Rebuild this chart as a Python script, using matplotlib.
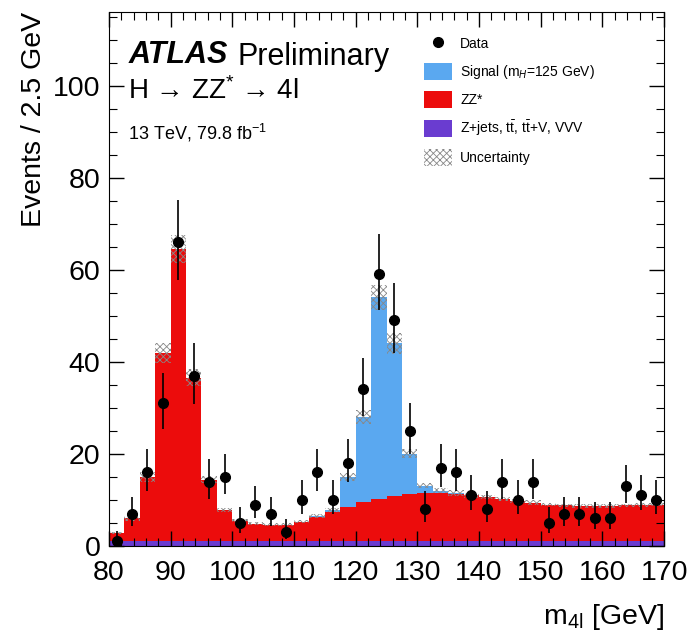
import numpy as np
import matplotlib
matplotlib.use("Agg")
import matplotlib.pyplot as plt
from matplotlib.patches import Patch
from matplotlib.lines import Line2D

plt.rcParams['font.family'] = ['Liberation Sans', 'DejaVu Sans']
plt.rcParams['mathtext.fontset'] = 'custom'
plt.rcParams['mathtext.rm'] = 'Liberation Sans'
plt.rcParams['mathtext.it'] = 'Liberation Sans:italic'

# bin edges 80-170 GeV, 2.5 GeV wide
edges = np.arange(80, 170.01, 2.5)
centers = edges[:-1] + 1.25

data = [1, 7, 16, 31, 66, 37, 14, 15, 5, 9, 7, 3, 10, 16, 10, 18, 34, 59,
        49, 25, 8, 17, 16, 11, 8, 14, 10, 14, 5, 7, 7, 6, 6, 13, 11, 10]
data_err_hi = [2.3, 3.7, 5.1, 6.6, 9.1, 7.1, 4.8, 4.9, 3.4, 4.1, 3.7, 2.9,
               4.3, 5.1, 4.3, 5.3, 6.9, 8.7, 8.1, 6.1, 3.9, 5.2, 5.1, 4.4,
               3.9, 4.8, 4.3, 4.8, 3.4, 3.7, 3.7, 3.6, 3.6, 4.6, 4.4, 4.3]
data_err_lo = [0.8, 2.6, 4.0, 5.5, 8.1, 6.1, 3.7, 3.8, 2.2, 2.9, 2.6, 1.6,
               3.1, 4.0, 3.1, 4.2, 5.8, 7.7, 7.0, 5.0, 2.8, 4.1, 4.0, 3.3,
               2.8, 3.7, 3.1, 3.7, 2.2, 2.6, 2.6, 2.4, 2.4, 3.6, 3.3, 3.1]

# Z+jets, ttbar, ttV, VVV
other = [1.0, 1.0, 1.0, 1.0, 1.0, 1.0, 1.0, 1.0, 1.0, 1.0, 1.0, 1.0,
         1.0, 1.0, 1.0, 1.0, 1.0, 1.0, 1.0, 1.0, 1.0, 1.0, 1.0, 1.0,
         1.0, 1.0, 1.0, 1.0, 1.0, 1.0, 1.0, 1.0, 1.0, 1.0, 1.0, 1.0]
# ZZ*
zz = [1.8, 5.0, 14.0, 41.0, 63.5, 35.6, 13.4, 6.8, 4.5, 3.8, 3.6, 3.6,
      4.3, 5.3, 6.3, 7.5, 8.5, 9.2, 9.8, 10.2, 10.4, 10.5, 10.3, 10.0,
      9.6, 9.2, 8.8, 8.4, 8.0, 7.8, 7.7, 7.7, 7.7, 7.8, 7.9, 8.0]
# signal mH = 125 GeV
signal = [0, 0, 0, 0, 0, 0, 0, 0, 0, 0, 0, 0,
          0, 0.2, 0.5, 6.5, 18.5, 43.8, 33.2, 8.8, 1.7, 0.5, 0.2, 0,
          0, 0, 0, 0, 0, 0, 0, 0, 0, 0, 0, 0]
# total uncertainty on the prediction
unc = [0.3, 0.5, 1.0, 2.2, 3.0, 1.8, 0.8, 0.5, 0.3, 0.3, 0.3, 0.3,
       0.3, 0.4, 0.4, 0.8, 1.5, 2.8, 2.3, 1.0, 0.6, 0.6, 0.6, 0.5,
       0.5, 0.5, 0.5, 0.5, 0.4, 0.4, 0.4, 0.4, 0.4, 0.4, 0.4, 0.4]

c_sig = '#5aa8f0'
c_zz = '#ec0c0c'
c_oth = '#6a3cd0'

fig = plt.figure(figsize=(6.89, 6.40), dpi=100)
ax = fig.add_axes([0.158, 0.147, 0.806, 0.834])

other = np.array(other)
zz = np.array(zz)
signal = np.array(signal)
unc = np.array(unc)

ax.hist(centers, bins=edges, weights=other, histtype='stepfilled', color=c_oth, lw=0)
ax.hist(centers, bins=edges, weights=zz, bottom=other, histtype='stepfilled', color=c_zz, lw=0)
ax.hist(centers, bins=edges, weights=signal, bottom=other + zz, histtype='stepfilled', color=c_sig, lw=0)

total = other + zz + signal
plt.rcParams['hatch.linewidth'] = 0.6
ax.fill_between(edges, np.append(total - unc, (total - unc)[-1]),
                np.append(total + unc, (total + unc)[-1]), step='post',
                facecolor='none', edgecolor='#888888', hatch='xxxxx', lw=0)

ax.errorbar(centers, data, yerr=[data_err_lo, data_err_hi], fmt='o', color='black',
            ms=7, elinewidth=1.2, capsize=0)

ax.set_xlim(80, 170)
ax.set_ylim(0, 116)
ax.set_xticks(np.arange(80, 171, 10))
ax.set_xticks(np.arange(80, 171, 2), minor=True)
ax.set_yticks(np.arange(0, 101, 20))
ax.set_yticks(np.arange(0, 116, 5), minor=True)
ax.tick_params(which='both', direction='in', top=True, right=True, labelsize=20.5)
ax.tick_params(which='major', length=11, width=1)
ax.tick_params(which='minor', length=5.5, width=0.8)
ax.tick_params(axis='x', pad=10)
ax.tick_params(axis='y', pad=6)

ax.set_ylabel('Events / 2.5 GeV', fontsize=20.5, loc='top')
ax.set_xlabel(r'm$_{\mathrm{4l}}$ [GeV]', fontsize=20.5, loc='right', labelpad=12)

ax.text(0.035, 0.948, 'ATLAS', transform=ax.transAxes, fontsize=22,
        fontweight='bold', fontstyle='italic', va='top')
ax.text(0.232, 0.945, 'Preliminary', transform=ax.transAxes, fontsize=22, va='top')
ax.text(0.035, 0.878, 'H \u2192 ZZ$^{*}$ \u2192 4l', transform=ax.transAxes,
        fontsize=20, va='top')
ax.text(0.035, 0.795, r'13 TeV, 79.8 fb$^{-1}$', transform=ax.transAxes,
        fontsize=13, va='top')

handles = [Line2D([], [], marker='o', color='black', ls='none', ms=7),
           Patch(facecolor=c_sig, lw=0),
           Patch(facecolor=c_zz, lw=0),
           Patch(facecolor=c_oth, lw=0),
           Patch(facecolor='white', edgecolor='#888888', hatch='xxxxx', lw=0)]
labels = [r'Data', r'Signal (m$_{H}$=125 GeV)', r'ZZ*',
          r'Z+jets, t$\bar{\mathrm{t}}$, t$\bar{\mathrm{t}}$+V, VVV', 'Uncertainty']
ax.legend(handles, labels, loc='upper left', bbox_to_anchor=(0.545, 0.98),
          frameon=False, fontsize=10, handlelength=2.0, handleheight=1.5,
          labelspacing=0.75, handletextpad=0.6)

fig.savefig('out.png', dpi=100)
